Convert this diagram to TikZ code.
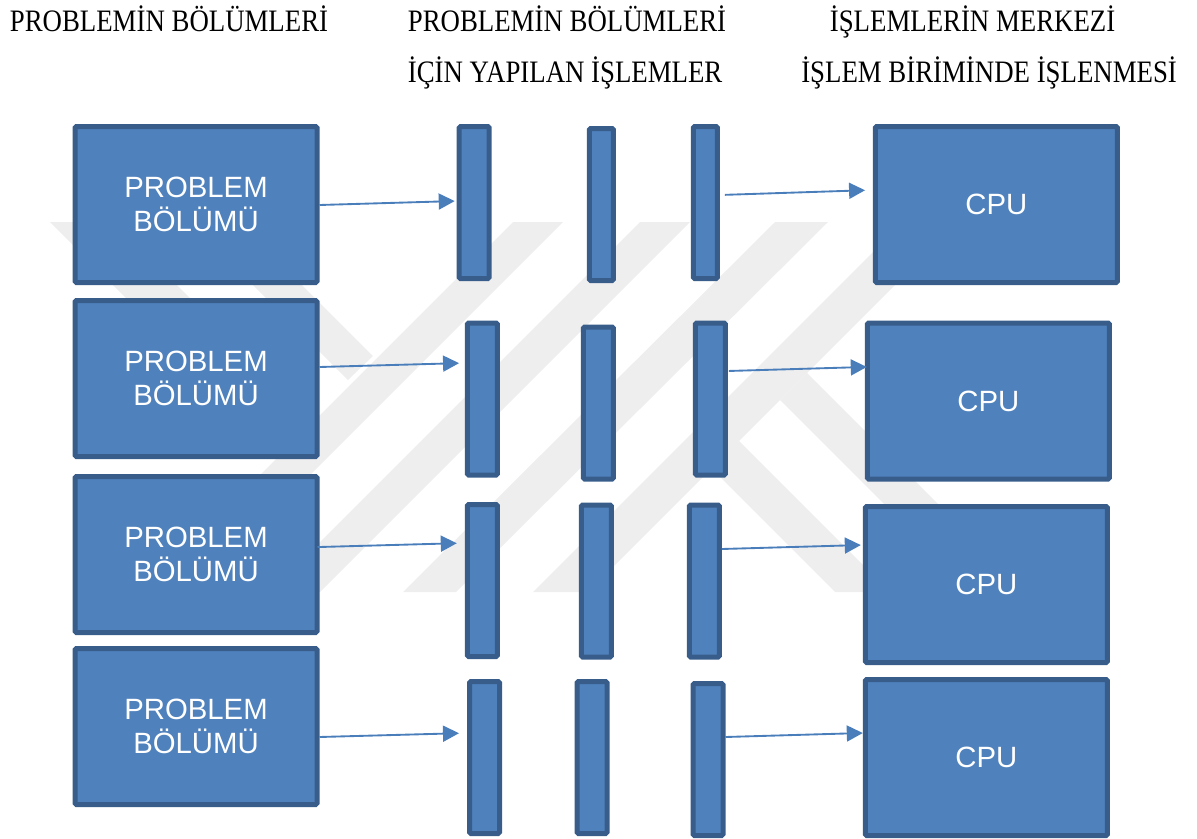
\documentclass[tikz,border=0pt]{standalone}
\usepackage{fontspec}
\setmainfont[FakeStretch=.86]{Liberation Serif}
\setsansfont{Liberation Sans}
\usetikzlibrary{arrows.meta}
\definecolor{boxfill}{HTML}{4F81BD}
\definecolor{boxline}{HTML}{385D8A}
\definecolor{flowline}{HTML}{4A7EBB}
\definecolor{wmark}{HTML}{EEEEEE}
\tikzset{
  bigbox/.style={draw=boxline,fill=boxfill,line width=3.75pt,rounded corners=1pt,inner sep=0pt,
    minimum width=181.5pt,minimum height=117pt,text=white,align=center,
    font=\sffamily\fontsize{22}{25.5}\selectfont},
  stepbar/.style={draw=boxline,fill=boxfill,line width=3.75pt,rounded corners=1pt,inner sep=0pt,
    minimum width=22.5pt,minimum height=114pt},
  thinbar/.style={stepbar,minimum width=18pt},
  flow/.style={draw=flowline,line width=1.4pt,-{Triangle[length=12pt,width=12pt]}},
  title/.style={anchor=base west,inner sep=0pt,font=\fontsize{23.4}{26}\selectfont}
}
\begin{document}
\begin{tikzpicture}[x=.75pt,y=-.75pt]
\useasboundingbox (0,0) rectangle (1197,839);
% watermark
\fill[wmark] (50,222) -- (114,222) -- (272,380) -- (208,380) -- cycle;
\fill[wmark] (190,222) -- (239,222) -- (373,356) -- (348,380) -- cycle;
\fill[wmark] (513,222) -- (563,222) -- (193,592) -- (143,592) -- cycle;
\fill[wmark] (640,222) -- (690,222) -- (320,592) -- (270,592) -- cycle;
\fill[wmark] (775,222) -- (828,222) -- (456,592) -- (403,592) -- cycle;
\fill[wmark] (903,222) -- (958,222) -- (588,592) -- (533,592) -- cycle;
\fill[wmark] (807,373) -- (780,400) -- (972,592) -- (1026,592) -- cycle;
\fill[wmark] (738,440) -- (711.5,468.5) -- (835,592) -- (890,592) -- cycle;
% titles
\node[title] (t1) at (9.6,31) {PROBLEMİN BÖLÜMLERİ};
\node[title] (t2) at (407.6,31) {PROBLEMİN BÖLÜMLERİ};
\node[title] (t3) at (407.6,82) {İÇİN YAPILAN İŞLEMLER};
\node[title] (t4) at (829.6,31) {İŞLEMLERİN MERKEZİ};
\node[title] (t5) at (801,82) {İŞLEM BİRİMİNDE İŞLENMESİ};
% problem parts
\node[bigbox] (pb1) at (196,204.5) {PROBLEM\\BÖLÜMÜ};
\node[bigbox] (pb2) at (196,378.5) {PROBLEM\\BÖLÜMÜ};
\node[bigbox] (pb3) at (196,554.5) {PROBLEM\\BÖLÜMÜ};
\node[bigbox] (pb4) at (196,726.5) {PROBLEM\\BÖLÜMÜ};
% bars
\node[stepbar] (a1) at (474.2,202.5) {};
\node[stepbar] (a2) at (482.3,399) {};
\node[stepbar] (a3) at (482.3,580.5) {};
\node[stepbar] (a4) at (484.5,757.5) {};
\node[thinbar] (b1) at (601.3,204.5) {};
\node[stepbar] (b2) at (598.3,403) {};
\node[stepbar] (b3) at (596.3,581) {};
\node[stepbar] (b4) at (592,757.5) {};
\node[thinbar] (c1) at (705.3,202.5) {};
\node[stepbar] (c2) at (710.3,399) {};
\node[stepbar] (c3) at (704.3,581) {};
\node[stepbar] (c4) at (708,759.5) {};
% cpus
\node[bigbox] (cpu1) at (996.3,204.5) {CPU};
\node[bigbox] (cpu2) at (988.3,401) {CPU};
\node[bigbox] (cpu3) at (986.3,584.5) {CPU};
\node[bigbox] (cpu4) at (986.3,757.5) {CPU};
% arrows
\draw[flow,shorten >=1.5pt] (pb1.east |- 0,205) -- (a1.west |- 0,201);
\draw[flow,shorten >=4.3pt] (pb2.east |- 0,367) -- (a2.west |- 0,363);
\draw[flow,shorten <=-1.5pt,shorten >=6pt] (pb3.east |- 0,547) -- (a3.west |- 0,543);
\draw[flow,shorten >=6pt] (pb4.east |- 0,737) -- (a4.west |- 0,733);
\draw[flow,shorten <=3.75pt,shorten >=5.8pt] (c1.east |- 0,195) -- (cpu1.west |- 0,190);
\draw[flow,shorten <=.75pt,shorten >=-1.5pt] (c2.east |- 0,371) -- (cpu2.west |- 0,367);
\draw[flow,shorten >=1.5pt] (c3.east |- 0,549) -- (cpu3.west |- 0,545);
\draw[flow] (c4.east |- 0,737) -- (cpu4.west |- 0,733);
\end{tikzpicture}
\end{document}
